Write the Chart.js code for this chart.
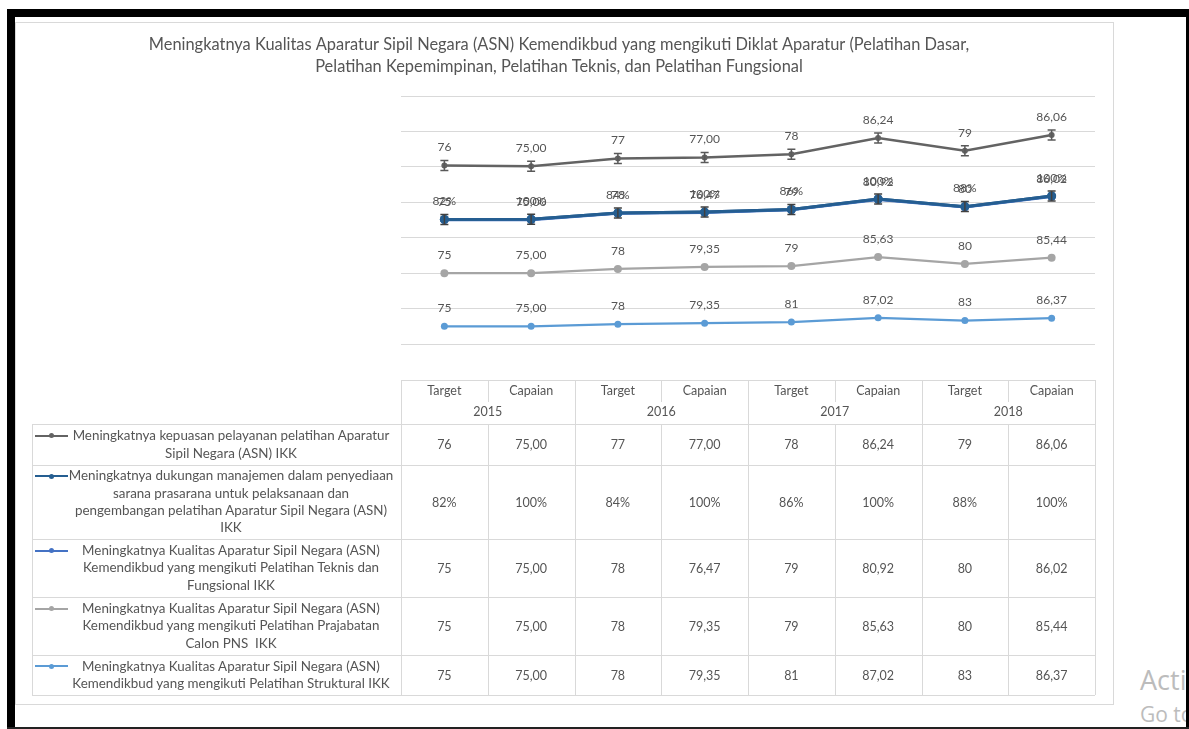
<!DOCTYPE html>
<html>
<head>
<meta charset="utf-8">
<script src="https://cdn.jsdelivr.net/npm/chart.js@4.4.1/dist/chart.umd.min.js"></script>
<style>
  body { margin: 0; width: 1189px; height: 729px; background: #fff; position: relative; overflow: hidden; font-family: Lato, "Open Sans", sans-serif; }
  .blk { position: absolute; background: #000; }
  #box { position: absolute; left: 15px; top: 22px; width: 1097px; height: 681px; border: 1px solid #d9d9d9; }
  #chart { position: absolute; left: 0; top: 0; }
  #table { position: absolute; left: 0; top: 0; width: 1189px; height: 729px; }
  .ln { position: absolute; background: #d9d9d9; }
  .txt { position: absolute; color: #555; font-size: 12.5px; text-align: center; white-space: nowrap; line-height: 17px; }
  .lbl { position: absolute; display: flex; align-items: center; justify-content: center; color: #555; font-size: 13.4px; text-align: center; white-space: nowrap; line-height: 17.3px; }
  .key { position: absolute; width: 33px; }
  .key i { position: absolute; left: 14px; width: 5px; height: 5px; border-radius: 50%; }
  .wm { position: absolute; left: 1140px; color: #bcbcbc; font-family: "Open Sans", sans-serif; white-space: nowrap; }
</style>
</head>
<body>
<div id="box"></div>
<div class="blk" style="left:7px;top:9px;width:1182px;height:8px"></div>
<div class="blk" style="left:7px;top:9px;width:8px;height:720px"></div>
<div class="wm" style="top:661px;font-size:27px">Activate Windows</div>
<div class="wm" style="top:700px;font-size:21px">Go to Settings to activate Windows.</div>
<div class="blk" style="left:1186px;top:9px;width:3px;height:720px"></div>
<div class="blk" style="left:7px;top:727px;width:1182px;height:2px;background:#222"></div>
<canvas id="chart" width="1189" height="729"></canvas>
<div id="table"></div>
<script>
const years = ['2015', '2016', '2017', '2018'];
const columns = ['Target', 'Capaian', 'Target', 'Capaian', 'Target', 'Capaian', 'Target', 'Capaian'];

const kepuasan = [76, 75.00, 77, 77.00, 78, 86.24, 79, 86.06];
const dukungan = [0.82, 1.00, 0.84, 1.00, 0.86, 1.00, 0.88, 1.00];
const teknis = [75, 75.00, 78, 76.47, 79, 80.92, 80, 86.02];
const prajabatan = [75, 75.00, 78, 79.35, 79, 85.63, 80, 85.44];
const struktural = [75, 75.00, 78, 79.35, 81, 87.02, 83, 86.37];

const titleLines = [
  'Meningkatnya Kualitas Aparatur Sipil Negara (ASN) Kemendikbud yang mengikuti Diklat Aparatur (Pelatihan Dasar,',
  'Pelatihan Kepemimpinan, Pelatihan Teknis, dan Pelatihan Fungsional'
];

// table rows in the order shown (top to bottom)
const rowNames = [
  ['Meningkatnya kepuasan pelayanan pelatihan Aparatur', 'Sipil Negara (ASN) IKK'],
  ['Meningkatnya dukungan manajemen dalam penyediaan', 'sarana prasarana untuk pelaksanaan dan', 'pengembangan pelatihan Aparatur Sipil Negara (ASN)', 'IKK'],
  ['Meningkatnya Kualitas Aparatur Sipil Negara (ASN)', 'Kemendikbud yang mengikuti Pelatihan Teknis dan', 'Fungsional IKK'],
  ['Meningkatnya Kualitas Aparatur Sipil Negara (ASN)', 'Kemendikbud yang mengikuti Pelatihan Prajabatan', 'Calon PNS  IKK'],
  ['Meningkatnya Kualitas Aparatur Sipil Negara (ASN)', 'Kemendikbud yang mengikuti Pelatihan Struktural IKK']
];
const rowValues = [kepuasan, dukungan, teknis, prajabatan, struktural];
const rowColors = ['#636363', '#255E91', '#4472C4', '#A5A5A5', '#5B9BD5'];
const rowIsPercent = [false, true, false, false, false];

function fmt(v, i, pct) {
  if (pct) return Math.round(v * 100) + '%';
  if (i % 2 === 0) return String(Math.round(v));
  return v.toFixed(2).replace('.', ',');
}

// stacked from the bottom: struktural, prajabatan, teknis, dukungan, kepuasan
const stackOrder = [4, 3, 2, 1, 0];
const pointSizes = [3, 4.5, 4, 4, 3.5];
const lineWidths = [2.5, 3, 2.5, 2.25, 2.25];

const datasets = stackOrder.map((r) => ({
  label: rowNames[r].join(' '),
  data: rowValues[r],
  borderColor: rowColors[r],
  backgroundColor: rowColors[r],
  borderWidth: lineWidths[r],
  pointRadius: pointSizes[r],
  pointBorderWidth: 0,
  tension: 0,
  fill: false
}));

const valueLabels = {
  id: 'valueLabels',
  afterDatasetsDraw(chart) {
    const ctx = chart.ctx;
    // dukungan line sits on top of teknis
    chart.getDatasetMeta(3).controller.draw();

    // small error bars on kepuasan and dukungan
    ctx.save();
    ctx.lineWidth = 1.5;
    [[4, '#595959'], [3, '#404040']].forEach(([di, col]) => {
      ctx.strokeStyle = col;
      chart.getDatasetMeta(di).data.forEach((pt) => {
        ctx.beginPath();
        ctx.moveTo(pt.x, pt.y - 5); ctx.lineTo(pt.x, pt.y + 5);
        ctx.moveTo(pt.x - 4, pt.y - 5); ctx.lineTo(pt.x + 4, pt.y - 5);
        ctx.moveTo(pt.x - 4, pt.y + 5); ctx.lineTo(pt.x + 4, pt.y + 5);
        ctx.stroke();
      });
    });

    ctx.font = '12px Lato';
    ctx.fillStyle = '#555';
    ctx.textAlign = 'center';
    ctx.textBaseline = 'middle';
    stackOrder.forEach((r, di) => {
      chart.getDatasetMeta(di).data.forEach((pt, i) => {
        ctx.fillText(fmt(rowValues[r][i], i, rowIsPercent[r]), pt.x, pt.y - 18);
      });
    });
    ctx.restore();
  }
};

const chart = new Chart(document.getElementById('chart'), {
  type: 'line',
  data: { labels: columns, datasets: datasets },
  options: {
    responsive: false,
    animation: false,
    devicePixelRatio: 1,
    layout: { padding: { left: 23, right: 94, top: 0, bottom: 385 } },
    plugins: {
      legend: { display: false },
      tooltip: { enabled: false },
      title: {
        display: true,
        text: titleLines,
        color: '#555',
        font: { family: 'Lato', size: 16.4, weight: 'normal', lineHeight: 22 / 16.4 },
        padding: { top: 34, bottom: 18 }
      }
    },
    scales: {
      x: { display: false, offset: true },
      y: {
        stacked: true,
        min: 50,
        max: 400,
        ticks: { display: false, stepSize: 50 },
        grid: { color: '#d9d9d9', lineWidth: 1, drawTicks: false },
        border: { display: false },
        afterFit: (scale) => { scale.width = 378; }
      }
    }
  },
  plugins: [valueLabels]
});

// data table under the plot, columns follow the x scale
(function buildTable() {
  const el = document.getElementById('table');
  const area = chart.chartArea;
  const colW = area.width / columns.length;
  const left = area.left;
  const right = area.right;
  const headTop = 380, headMid = 402, bodyTop = 424;
  const rowTops = [424, 465, 539, 597, 655, 695];
  const labelLeft = 32;

  function line(x, y, w, h) {
    const d = document.createElement('div');
    d.className = 'ln';
    d.style.cssText = `left:${x}px;top:${y}px;width:${w}px;height:${h}px`;
    el.appendChild(d);
  }
  function text(str, cx, cy, cls) {
    const d = document.createElement('div');
    d.className = cls || 'txt';
    d.textContent = str;
    d.style.left = (cx - 60) + 'px';
    d.style.width = '120px';
    d.style.top = (cy - 8.5) + 'px';
    el.appendChild(d);
  }

  // header
  line(left, headTop, right - left, 1);
  for (let k = 0; k <= columns.length; k++) {
    const x = Math.round(left + k * colW);
    line(x, headTop, 1, (k % 2 === 0 ? bodyTop : headMid) - headTop);
  }
  columns.forEach((c, i) => text(c, left + (i + 0.5) * colW, 390));
  years.forEach((y, j) => text(y, left + (2 * j + 1) * colW, 411));

  // body grid
  rowTops.forEach((y) => line(labelLeft, y, right - labelLeft, 1));
  line(labelLeft, bodyTop, 1, rowTops[5] - bodyTop);
  for (let k = 0; k <= columns.length; k++) {
    line(Math.round(left + k * colW), bodyTop, 1, rowTops[5] - bodyTop);
  }

  rowNames.forEach((lines, r) => {
    const top = rowTops[r], h = rowTops[r + 1] - top, cy = top + h / 2;
    const lbl = document.createElement('div');
    lbl.className = 'lbl';
    lbl.style.cssText = `left:68px;width:326px;top:${top}px;height:${h}px`;
    lbl.innerHTML = lines.map((s) => s.replace(/ {2}/g, ' &nbsp;')).join('<br>');
    el.appendChild(lbl);

    const firstY = cy - (lines.length - 1) * 17.3 / 2;
    const key = document.createElement('div');
    key.className = 'key';
    key.style.cssText = `left:35px;top:${firstY - 1}px;height:2px;background:${rowColors[r]}`;
    const dot = document.createElement('i');
    dot.style.cssText = `top:-1.5px;background:${rowColors[r]}`;
    key.appendChild(dot);
    el.appendChild(key);

    rowValues[r].forEach((v, i) => {
      text(fmt(v, i, rowIsPercent[r]), left + (i + 0.5) * colW, cy);
    });
  });
})();
</script>
</body>
</html>
